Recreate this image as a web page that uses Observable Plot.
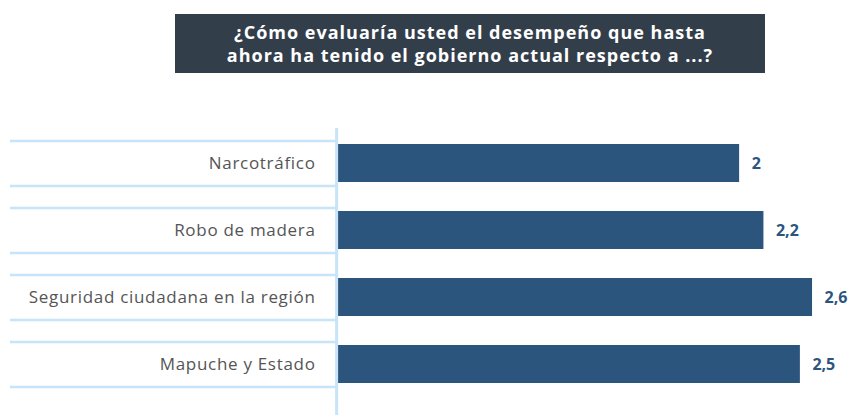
<!DOCTYPE html>
<html><head><meta charset="utf-8">
<script src="https://cdn.jsdelivr.net/npm/d3@7"></script>
<script src="https://cdn.jsdelivr.net/npm/@observablehq/plot@0.6"></script>
<style>
body{margin:0;background:#fff;font-family:"Open Sans",sans-serif;}
#title{position:absolute;left:175px;top:14px;width:590px;height:59px;background:#333e4b;color:#fff;font-weight:700;font-size:18px;line-height:23px;letter-spacing:1px;text-align:center;display:flex;align-items:center;justify-content:center;}
#chart{position:absolute;left:0;top:90px;}
</style></head><body>
<div id="title"><div>¿Cómo evaluaría usted el desempeño que hasta<br>ahora ha tenido el gobierno actual respecto a ...?</div></div>
<div id="chart"></div>
<script>
const categories = ["Narcotráfico", "Robo de madera", "Seguridad ciudadana en la región", "Mapuche y Estado"];
const values = [2, 2.2, 2.6, 2.5];
const axisMin = -4, barBase = -1.3, axisMax = 2.9;

const data = categories.map((c, i) => ({category: c, value: values[i]}));
const lineColor = "#c7e4f8";
const barColor = "#2c557e";

const chart = Plot.plot({
  width: 850, height: 328,
  marginTop: 38, marginBottom: 3, marginLeft: 10, marginRight: 1.5,
  x: {domain: [axisMin, axisMax], axis: null},
  y: {domain: categories, range: [53, 294.5], paddingInner: 0.43, paddingOuter: 0, axis: null},
  style: {fontFamily: "'Open Sans', sans-serif", background: "transparent"},
  marks: [
    Plot.ruleY(data, {y: "category", x1: axisMin, x2: barBase, dy: -22.5, stroke: lineColor, strokeWidth: 2.5}),
    Plot.ruleY(data, {y: "category", x1: axisMin, x2: barBase, dy: 22.5, stroke: lineColor, strokeWidth: 2.5}),
    Plot.ruleX([barBase], {dx: -2, stroke: lineColor, strokeWidth: 3}),
    Plot.barX(data, {y: "category", x1: barBase, x2: "value", fill: barColor}),
    Plot.text(data, {y: "category", x: barBase, text: "category", textAnchor: "end", dx: -23, fill: "#555", fontSize: 17}),
    Plot.text(data, {y: "category", x: "value", text: d => String(d.value).replace(".", ","), textAnchor: "start", dx: 12, fill: barColor, fontWeight: "bold", fontSize: 16})
  ]
});
const textGroups = chart.querySelectorAll('g[aria-label="text"]');
if (textGroups[0]) textGroups[0].setAttribute("letter-spacing", "0.7");
document.getElementById("chart").appendChild(chart);
</script>
</body></html>
